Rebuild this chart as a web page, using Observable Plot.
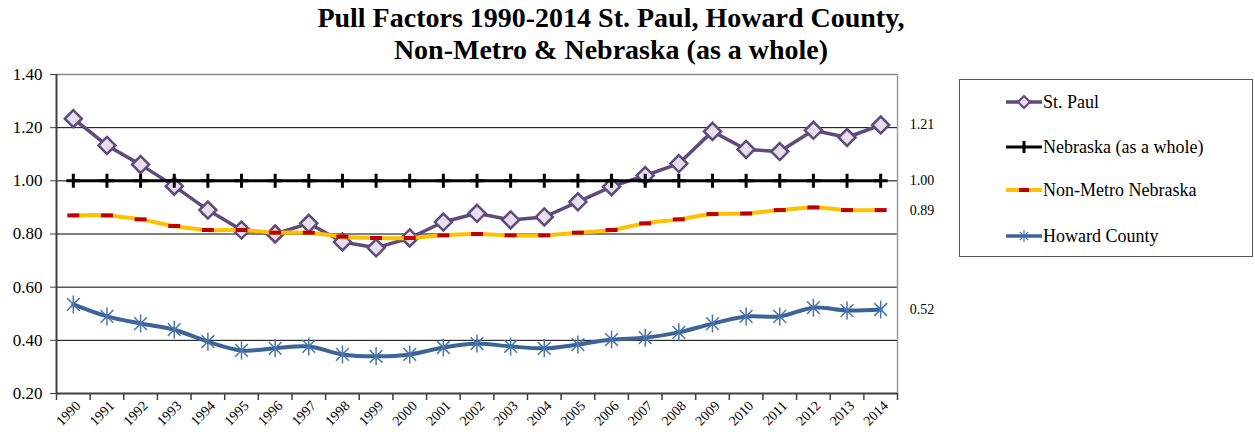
<!DOCTYPE html>
<html>
<head>
<meta charset="utf-8">
<script src="https://cdn.jsdelivr.net/npm/d3@7"></script>
<script src="https://cdn.jsdelivr.net/npm/@observablehq/plot@0.6"></script>
<style>
  html, body { margin: 0; padding: 0; background: #fff; }
  #wrap { position: relative; width: 1255px; height: 436px; font-family: "Liberation Serif", serif; }
  #title { position: absolute; left: 261px; width: 700px; top: 2px; text-align: center; font-family: "Liberation Serif", serif; font-weight: bold; font-size: 28px; line-height: 32px; color: #000; }
  #legend { position: absolute; left: 959px; top: 79px; width: 294px; height: 178px; border: 1px solid #555; box-sizing: border-box; background: #fff; }
  .item { position: absolute; left: 46px; height: 20px; display: flex; align-items: center; font-family: "Liberation Serif", serif; font-size: 18px; color: #000; white-space: nowrap; }
  #chart { position: absolute; left: 0; top: 0; }
</style>
</head>
<body>
<div id="wrap">
  <div id="chart"></div>
  <div id="title">Pull Factors 1990-2014 St. Paul, Howard County,<br>Non-Metro &amp; Nebraska (as a whole)</div>
  <div id="legend"></div>
</div>
<script>
const years = d3.range(1990, 2015);
const stPaul   = [1.234,1.133,1.061,0.98,0.89,0.815,0.80,0.84,0.77,0.748,0.785,0.845,0.878,0.853,0.864,0.921,0.978,1.02,1.065,1.186,1.118,1.11,1.19,1.163,1.21];
const nebraska = [1,1,1,1,1,1,1,1,1,1,1,1,1,1,1,1,1,1,1,1,1,1,1,1,1];
const nonMetro = [0.87,0.87,0.855,0.83,0.815,0.815,0.805,0.805,0.79,0.785,0.785,0.795,0.80,0.795,0.795,0.805,0.815,0.84,0.855,0.875,0.877,0.89,0.90,0.89,0.89];
const howard   = [0.535,0.49,0.463,0.44,0.395,0.362,0.37,0.377,0.347,0.34,0.347,0.373,0.388,0.377,0.37,0.384,0.403,0.41,0.43,0.463,0.49,0.49,0.523,0.512,0.516];
const seriesNames = ["St. Paul", "Nebraska (as a whole)", "Non-Metro Nebraska", "Howard County"];
const yTicks = [0.2,0.4,0.6,0.8,1.0,1.2,1.4];
const gridTicks = [0.4,0.6,0.8,1.0,1.2];
const endLabels = ["1.21","1.00","0.89","0.52"];

const C = {
  stPaul: "#604A7B", stPaulFill: "#E6E0EC",
  neb: "#000000",
  nmYellow: "#FFC000", nmRed: "#C00000",
  howard: "#3B6497", howardMark: "#4A76AC"
};
const FONT = "'Liberation Serif', serif";

const rows = (vals) => years.map((y, i) => ({year: y, value: vals[i]}));
const dSP = rows(stPaul), dNE = rows(nebraska), dNM = rows(nonMetro), dHC = rows(howard);
const boundaries = years.map(y => y - 0.5).concat([years[years.length - 1] + 0.5]);

const half = size => Math.sqrt(size / Math.PI);
const plusSym = { draw(ctx, size) { const r = half(size); ctx.moveTo(0, -r); ctx.lineTo(0, r); ctx.moveTo(-r, 0); ctx.lineTo(r, 0); } };
const starSym = { draw(ctx, size) { const r = half(size); const d = r * 0.7071;
  ctx.moveTo(0, -r); ctx.lineTo(0, r); ctx.moveTo(-d, -d); ctx.lineTo(d, d); ctx.moveTo(-d, d); ctx.lineTo(d, -d); } };
const dashSym = { draw(ctx, size) { const r = half(size); ctx.rect(-r, -2, 2 * r, 4); } };
const diamSym = { draw(ctx, size) { const r = half(size); ctx.moveTo(0, -r); ctx.lineTo(r, 0); ctx.lineTo(0, r); ctx.lineTo(-r, 0); ctx.closePath(); } };

const lastOf = (d, label) => [{year: d[d.length - 1].year, value: d[d.length - 1].value, label}];

const chart = Plot.plot({
  width: 1255, height: 436,
  marginLeft: 56, marginRight: 358, marginTop: 74, marginBottom: 43,
  x: {type: "linear", domain: [1989.5, 2014.5], label: null},
  y: {domain: [0.2, 1.4], label: null},
  style: {fontFamily: FONT, background: "transparent", color: "#000"},
  marks: [
    Plot.ruleY(gridTicks, {stroke: "#000", strokeWidth: 1}),
    Plot.ruleY([1.4], {stroke: "#8c8c8c", strokeWidth: 1.5}),
    Plot.ruleX([2014.5], {stroke: "#9a9a9a", strokeWidth: 1.5}),
    Plot.axisY({ticks: yTicks, tickFormat: d => d.toFixed(2), tickSize: 6, tickPadding: 8, fontSize: 17, stroke: "#404040", fontFamily: FONT, label: null}),
    Plot.axisX({ticks: boundaries, tickFormat: () => "", tickSize: 7, stroke: "#404040", strokeWidth: 1.5, label: null}),
    Plot.axisX({ticks: years, tickFormat: d => String(d), tickSize: 0, tickPadding: 10, tickRotate: -45, fontSize: 14, dx: 5, fontFamily: FONT, label: null}),
    Plot.ruleX([1989.5], {y1: 0.2, y2: 1.4, stroke: "#404040", strokeWidth: 2}),
    Plot.ruleY([0.2], {stroke: "#404040", strokeWidth: 2}),
    // St. Paul
    Plot.line(dSP, {x: "year", y: "value", stroke: C.stPaul, strokeWidth: 3.5}),
    Plot.dot(dSP, {x: "year", y: "value", symbol: diamSym, r: 8.5, fill: C.stPaulFill, stroke: C.stPaul, strokeWidth: 2.5}),
    // Nebraska
    Plot.line(dNE, {x: "year", y: "value", stroke: C.neb, strokeWidth: 3}),
    Plot.dot(dNE, {x: "year", y: "value", symbol: plusSym, r: 7, fill: "none", stroke: C.neb, strokeWidth: 3}),
    // Non-Metro
    Plot.line(dNM, {x: "year", y: "value", stroke: C.nmYellow, strokeWidth: 4, curve: "catmull-rom"}),
    Plot.dot(dNM, {x: "year", y: "value", symbol: dashSym, r: 6, fill: C.nmRed, stroke: "none"}),
    // Howard
    Plot.line(dHC, {x: "year", y: "value", stroke: C.howard, strokeWidth: 4, curve: "catmull-rom"}),
    Plot.dot(dHC, {x: "year", y: "value", symbol: starSym, r: 9, fill: "none", stroke: C.howardMark, strokeWidth: 1.5}),
    // end labels
    Plot.text([...lastOf(dSP, endLabels[0]), ...lastOf(dNE, endLabels[1]), ...lastOf(dNM, endLabels[2]), ...lastOf(dHC, endLabels[3])],
      {x: "year", y: "value", text: "label", textAnchor: "start", dx: 29, fontSize: 14, fill: "#000", fontFamily: FONT})
  ]
});
document.getElementById("chart").appendChild(chart);

// Legend
const legend = document.getElementById("legend");
const legendDefs = [
  {name: seriesNames[0], top: 12, draw: () => `<line x1="0" y1="10" x2="36" y2="10" stroke="${C.stPaul}" stroke-width="3.5"/><path d="M18,4 L24,10 L18,16 L12,10 Z" fill="${C.stPaulFill}" stroke="${C.stPaul}" stroke-width="2"/>`},
  {name: seriesNames[1], top: 57, draw: () => `<line x1="0" y1="10" x2="36" y2="10" stroke="#000" stroke-width="3"/><line x1="18" y1="4" x2="18" y2="16" stroke="#000" stroke-width="3"/>`},
  {name: seriesNames[2], top: 100, draw: () => `<line x1="0" y1="10" x2="36" y2="10" stroke="${C.nmYellow}" stroke-width="4"/><rect x="13" y="8" width="10" height="4" fill="${C.nmRed}"/>`},
  {name: seriesNames[3], top: 146, draw: () => `<line x1="0" y1="10" x2="36" y2="10" stroke="${C.howard}" stroke-width="3.5"/><path d="M18,4 L18,16 M13.8,5.8 L22.2,14.2 M13.8,14.2 L22.2,5.8" stroke="${C.howardMark}" stroke-width="1.2"/>`}
];
for (const d of legendDefs) {
  const el = document.createElement("div");
  el.className = "item";
  el.style.top = d.top + "px";
  el.innerHTML = `<svg width="37" height="20">${d.draw()}</svg><span>${d.name}</span>`;
  legend.appendChild(el);
}
</script>
</body>
</html>
